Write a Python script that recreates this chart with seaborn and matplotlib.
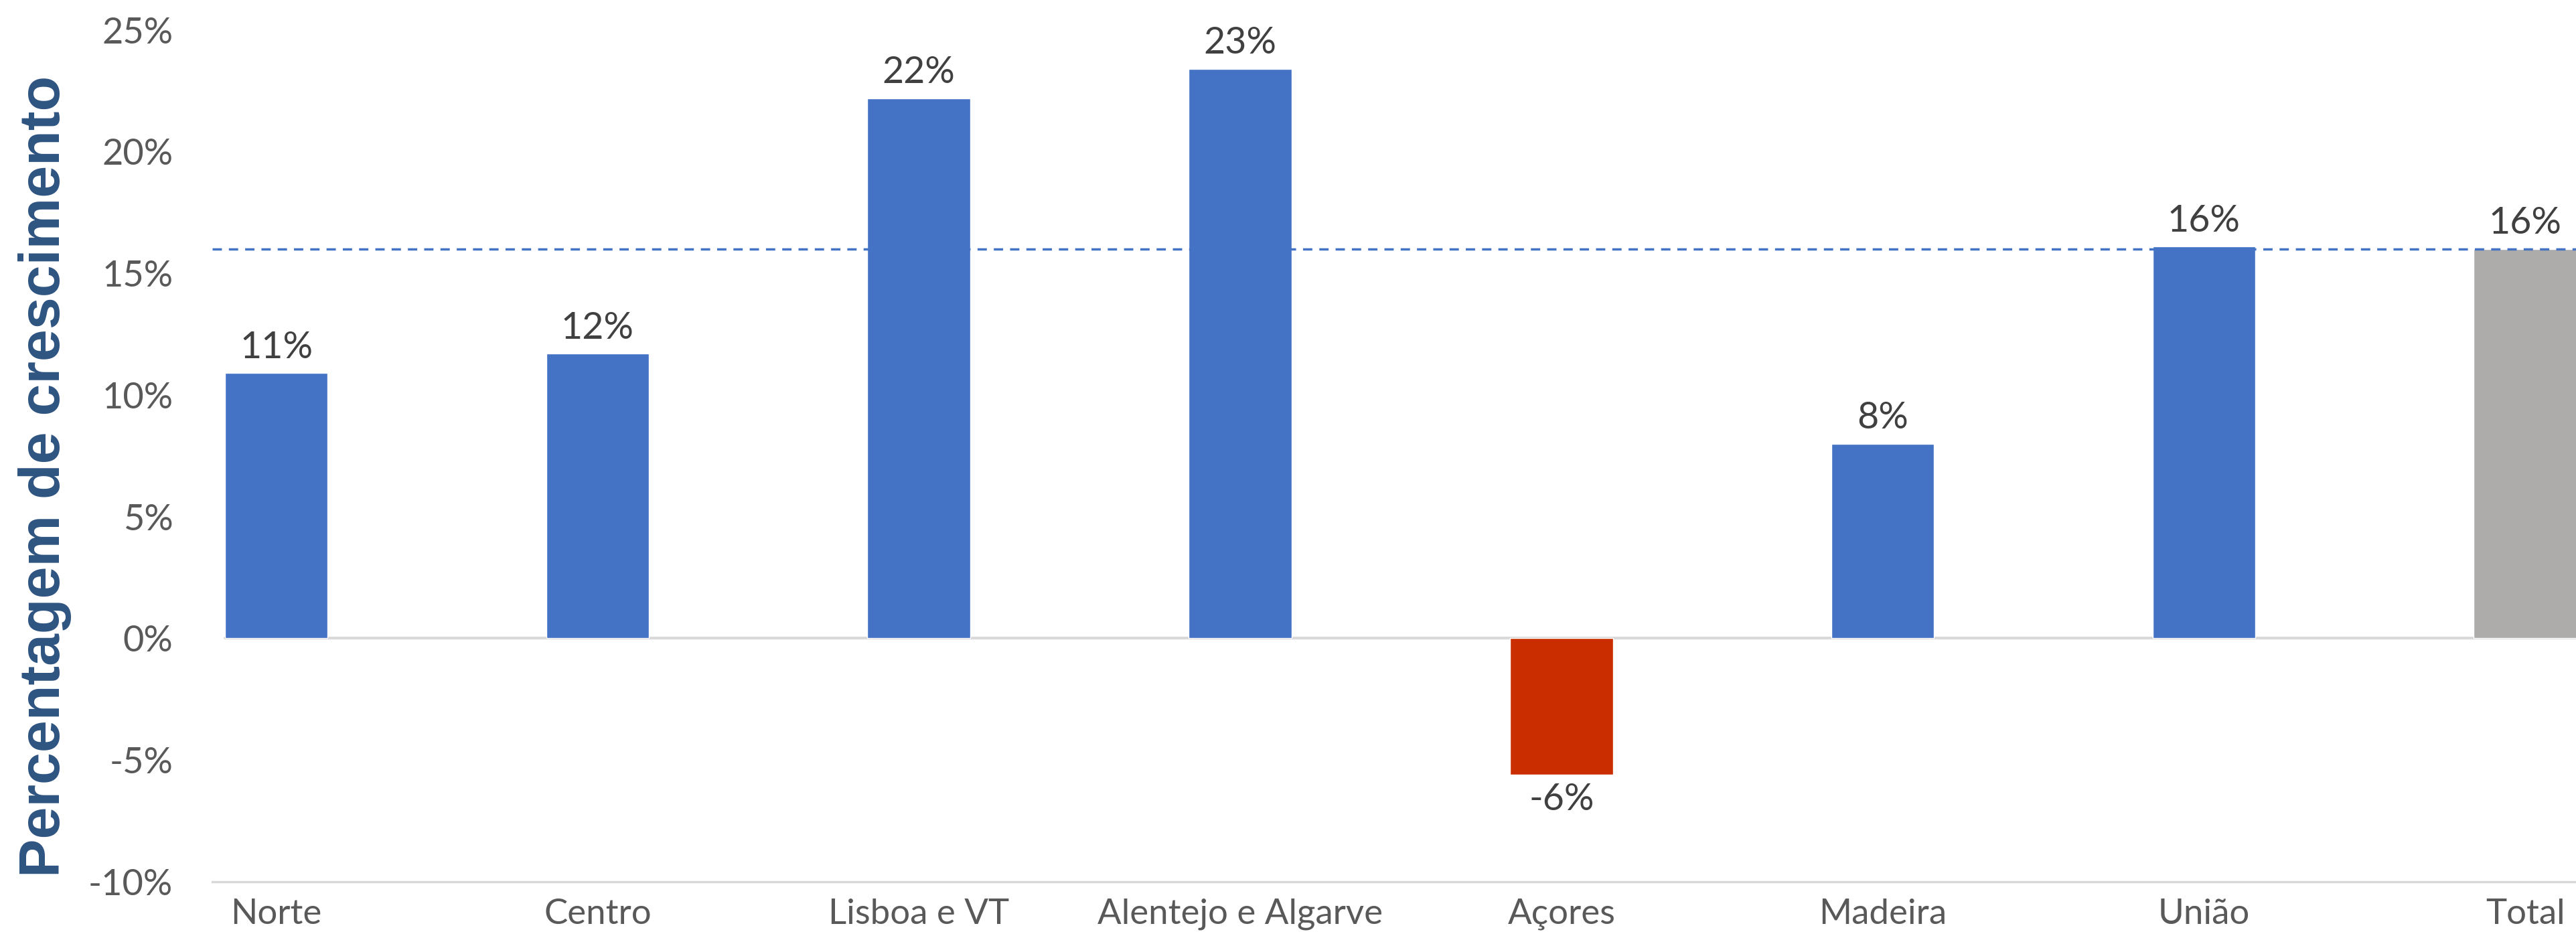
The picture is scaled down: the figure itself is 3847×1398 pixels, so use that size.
import matplotlib
matplotlib.use("Agg")
import matplotlib.pyplot as plt
import seaborn as sns
import pandas as pd

categories = ["Norte", "Centro", "Lisboa e VT", "Alentejo e Algarve", "Açores", "Madeira", "União", "Total"]
values = [10.9, 11.7, 22.2, 23.4, -5.6, 8.0, 16.1, 16.0]
labels = ["11%", "12%", "22%", "23%", "-6%", "8%", "16%", "16%"]
bar_colors = ["#4472C4", "#4472C4", "#4472C4", "#4472C4", "#C92D00", "#4472C4", "#4472C4", "#AEABAB"]
ytick_values = [-10, -5, 0, 5, 10, 15, 20, 25]
ytick_labels = ["-10%", "-5%", "0%", "5%", "10%", "15%", "20%", "25%"]
reference_value = 16.0

sns.set_theme(style="white")
plt.rcParams['font.family'] = ['Lato', 'DejaVu Sans']

df = pd.DataFrame({"cat": categories, "val": values})

fig = plt.figure(figsize=(38.48, 13.98), dpi=100)
ax = fig.add_axes([0.0823, 0.058, 0.9177, 0.91])

sns.barplot(data=df, x="cat", y="val", hue="cat", palette=bar_colors,
            width=0.32, legend=False, ax=ax, saturation=1)

for container, lab in zip(ax.containers, labels):
    ax.bar_label(container, labels=[lab], padding=9, fontsize=40, color="#404040")

ax.set_ylim(-10, 25)
ax.set_xlim(-0.2, 7.16)
ax.axhline(0, xmin=0.0054, color="#D9D9D9", lw=3, zorder=0.5)
ax.axhline(reference_value, color="#4472C4", lw=2.5, ls=(0, (4, 3)), zorder=3)

ax.set_yticks(ytick_values)
ax.set_yticklabels(ytick_labels)
ax.tick_params(axis="y", length=0, pad=42, labelsize=39, labelcolor="#595959")
ax.tick_params(axis="x", length=0, pad=18, labelsize=38, labelcolor="#595959")
ax.set_xlabel("")
ax.set_ylabel("")

for s in ["top", "right", "left"]:
    ax.spines[s].set_visible(False)
ax.spines["bottom"].set_color("#D9D9D9")
ax.spines["bottom"].set_linewidth(2.5)

fig.text(0.0175, 0.491, "Percentagem de crescimento", rotation=90,
         ha="center", va="center", fontsize=62, fontweight="bold",
         color="#2E5481", family=["Liberation Sans", "DejaVu Sans"])

fig.savefig("out.png", dpi=100)
